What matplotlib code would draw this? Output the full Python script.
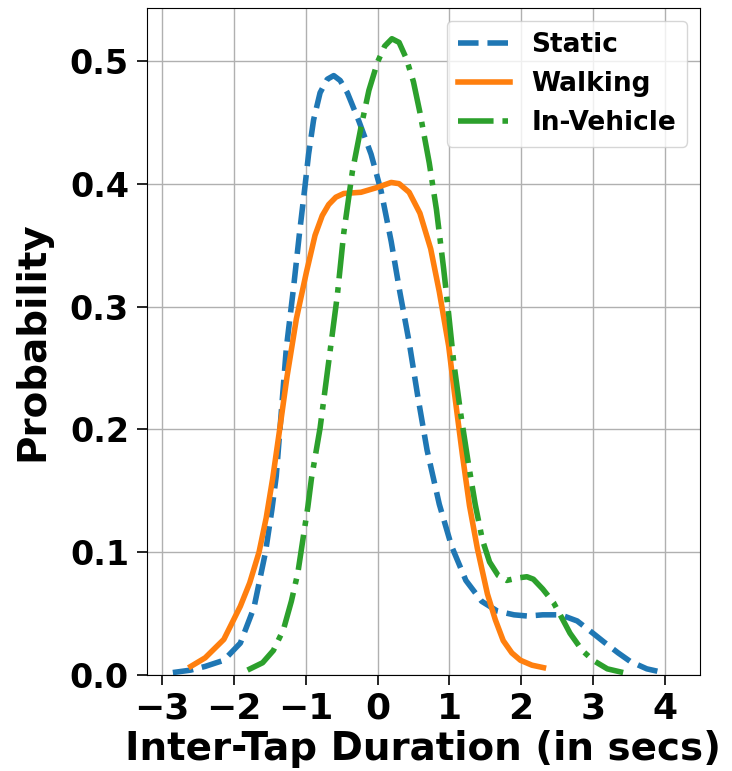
import numpy as np
import matplotlib
matplotlib.use('Agg')
import matplotlib.pyplot as plt

# curves (x in secs, y probability)
static_x = [-2.85, -2.6, -2.4, -2.14, -1.91, -1.72, -1.56, -1.47, -1.41, -1.34, -1.27, -1.17,
            -1.09, -1.01, -0.96, -0.89, -0.80, -0.70, -0.61, -0.52, -0.42, -0.26, -0.09, 0.05,
            0.19, 0.31, 0.44, 0.56, 0.69, 0.86, 1.03, 1.23, 1.45, 1.67, 1.90, 2.09, 2.30, 2.55,
            2.78, 3.00, 3.15, 3.35, 3.52, 3.75, 3.98]
static_y = [0.002, 0.004, 0.007, 0.012, 0.026, 0.055, 0.100, 0.135, 0.162, 0.214, 0.266, 0.315,
            0.358, 0.398, 0.424, 0.452, 0.474, 0.485, 0.488, 0.484, 0.474, 0.451, 0.424, 0.394,
            0.353, 0.312, 0.271, 0.227, 0.183, 0.139, 0.105, 0.077, 0.060, 0.052, 0.049, 0.048, 0.049, 0.049,
            0.044, 0.034, 0.027, 0.018, 0.011, 0.005, 0.002]

walking_x = [-2.60, -2.40, -2.14, -1.91, -1.78, -1.65, -1.55, -1.46, -1.36, -1.26, -1.13, -0.99,
             -0.87, -0.77, -0.68, -0.58, -0.47, -0.23, 0.00, 0.19, 0.30, 0.44, 0.59, 0.74, 0.86,
             0.99, 1.07, 1.18, 1.28, 1.39, 1.53, 1.64, 1.75, 1.87, 1.99, 2.15, 2.31]
walking_y = [0.007, 0.014, 0.029, 0.056, 0.075, 0.100, 0.128, 0.160, 0.201, 0.243, 0.290, 0.328,
             0.358, 0.374, 0.383, 0.389, 0.392, 0.393, 0.397, 0.401, 0.400, 0.393, 0.376, 0.347, 0.312,
             0.268, 0.230, 0.180, 0.138, 0.103, 0.066, 0.045, 0.028, 0.018, 0.012, 0.008, 0.006]

vehicle_x = [-1.81, -1.60, -1.45, -1.31, -1.20, -1.11, -0.97, -0.92, -0.80, -0.68, -0.56, -0.47,
             -0.35, -0.23, -0.12, 0.00, 0.10, 0.20, 0.30, 0.40, 0.50, 0.59, 0.72, 0.82, 0.92, 0.99,
             1.06, 1.16, 1.26, 1.36, 1.46, 1.56, 1.68, 1.80, 1.95, 2.08, 2.17, 2.30, 2.45, 2.58,
             2.68, 2.85, 3.00, 3.20, 3.42]
vehicle_y = [0.004, 0.010, 0.020, 0.037, 0.060, 0.083, 0.137, 0.160, 0.201, 0.255, 0.309, 0.360,
             0.410, 0.446, 0.476, 0.499, 0.512, 0.518, 0.515, 0.502, 0.483, 0.458, 0.417, 0.379, 0.331, 0.294,
             0.255, 0.212, 0.174, 0.139, 0.110, 0.092, 0.081, 0.077, 0.079, 0.080, 0.078, 0.070, 0.059, 0.045,
             0.034, 0.020, 0.012, 0.005, 0.002]

plt.rcParams['font.family'] = 'DejaVu Sans'
plt.rcParams['font.weight'] = 'bold'

fig = plt.figure(figsize=(7.32, 7.71), dpi=100)
ax = fig.add_axes([0.2008, 0.1245, 0.7555, 0.8651])

style = dict(lw=4, solid_joinstyle='round', dash_joinstyle='round')
ax.plot(static_x, static_y, color='#1f77b4', ls='--', label='Static', **style)
ax.plot(walking_x, walking_y, color='#ff7f0e', ls='-', label='Walking', **style)
ax.plot(vehicle_x, vehicle_y, color='#2ca02c', ls='-.', label='In-Vehicle', **style)

ax.set_xlim(-3.21, 4.49)
ax.set_ylim(0, 0.543)
ax.set_xticks(range(-3, 5))
ax.set_yticks([0.0, 0.1, 0.2, 0.3, 0.4, 0.5])
ax.grid(True, color='#b0b0b0', lw=1)
ax.tick_params(axis='x', labelsize=26, length=7, width=1.2, pad=5)
ax.tick_params(axis='y', labelsize=24, length=7, width=1.2, pad=6)
for lab in ax.get_xticklabels() + ax.get_yticklabels():
    lab.set_fontweight('bold')

ax.set_xlabel('Inter-Tap Duration (in secs)', fontsize=28, fontweight='bold', labelpad=3)
ax.set_ylabel('Probability', fontsize=28, fontweight='bold', labelpad=13)

leg = ax.legend(loc='upper right', prop={'weight': 'bold', 'size': 19}, handlelength=2.0)

fig.savefig('out.png', dpi=100)
